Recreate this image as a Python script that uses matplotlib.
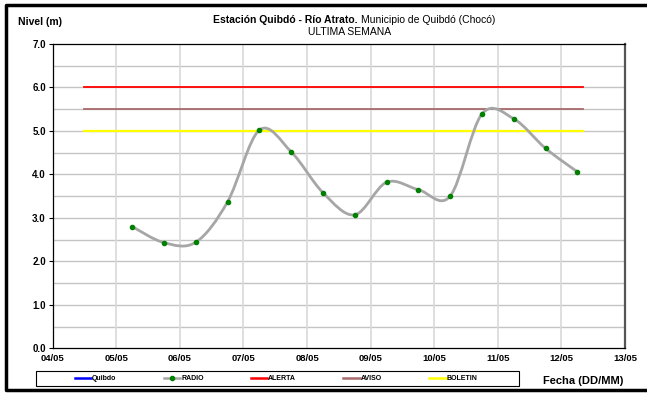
import matplotlib
matplotlib.use("Agg")
import matplotlib.pyplot as plt
from matplotlib.path import Path
from matplotlib.patches import PathPatch, Rectangle
from matplotlib.lines import Line2D
import numpy as np

plt.rcParams['font.family'] = ['Liberation Sans', 'DejaVu Sans']

# ---------------------------------------------------------------------------
# data (x = days since 04/05 00:00)
# ---------------------------------------------------------------------------
day_labels = ["04/05", "05/05", "06/05", "07/05", "08/05",
              "09/05", "10/05", "11/05", "12/05", "13/05"]

radio_days = [1.25, 1.75, 2.25, 2.75, 3.25, 3.75, 4.25, 4.75,
              5.25, 5.75, 6.25, 6.75, 7.25, 7.75, 8.25]
radio_level = [2.80, 2.43, 2.44, 3.37, 5.02, 4.52, 3.58, 3.07,
               3.82, 3.65, 3.50, 5.39, 5.28, 4.60, 4.06]

threshold_span = [0.5, 8.34]
alerta = 6.0
aviso = 5.5
boletin = 5.0


def smooth_path(xs, ys):
    # Excel-like smoothed line: cubic Bezier segments through every point
    pts = np.column_stack([xs, ys])
    n = len(pts)
    verts = [pts[0]]
    codes = [Path.MOVETO]
    for i in range(n - 1):
        p0 = pts[i - 1] if i > 0 else pts[i]
        p1, p2 = pts[i], pts[i + 1]
        p3 = pts[i + 2] if i + 2 < n else pts[i + 1]
        verts += [p1 + (p2 - p0) / 6.0, p2 - (p3 - p1) / 6.0, p2]
        codes += [Path.CURVE4] * 3
    return Path(verts, codes)


W, H = 647, 396
fig = plt.figure(figsize=(W / 100, H / 100), dpi=100)
ax = fig.add_axes([52.7 / W, 1 - 348.3 / H, (625 - 52.7) / W, (348.3 - 44) / H])

# outer frame: left, top and bottom only (right edge is outside the picture)
fx = [W + 10, 5.5, 5.5, W + 10]
fy = [4.5, 4.5, 390, 390]
fig.add_artist(Line2D([x / W for x in fx], [1 - y / H for y in fy],
                      transform=fig.transFigure, color='black', linewidth=2.5))
# legend box
fig.patches.append(Rectangle((36 / W, 1 - 386 / H), (519 - 36) / W, 15 / H,
                             transform=fig.transFigure, fill=False,
                             edgecolor='black', linewidth=0.8))

# grid
for y in np.arange(0.5, 7.0, 0.5):
    ax.axhline(y, color='#c4c4c4', linewidth=1.0, zorder=0)
for d in range(1, len(day_labels) - 1):
    ax.axvline(d, color='#d9d9d9', linewidth=1.2, zorder=0)

# thresholds
ax.plot(threshold_span, [alerta, alerta], color='#ff0000', linewidth=1.3, zorder=2)
ax.plot(threshold_span, [aviso, aviso], color='#a86a6a', linewidth=1.3, zorder=2)
ax.plot(threshold_span, [boletin, boletin], color='#ffff00', linewidth=1.6, zorder=2)

# radio series
ax.add_patch(PathPatch(smooth_path(radio_days, radio_level), fill=False,
                       edgecolor='#a6a6a6', linewidth=2.0, zorder=3))
ax.plot(radio_days, radio_level, linestyle='none', marker='o', markersize=3.0,
        color='#008000', zorder=4)

ax.set_xlim(0, len(day_labels) - 1)
ax.set_ylim(0, 7)
ax.set_xticks(range(len(day_labels)))
ax.set_xticklabels(day_labels, fontsize=6.8, fontweight='bold')
ax.set_yticks(np.arange(0, 7.1, 1.0))
ax.set_yticklabels([f"{v:.1f}" for v in np.arange(0, 7.1, 1.0)],
                   fontsize=7, fontweight='bold')
ax.tick_params(axis='both', length=3, width=0.8, pad=2)
ax.tick_params(axis='x', length=0, pad=4)
ax.spines['right'].set_color('#555555')
ax.spines['right'].set_linewidth(1.6)
for s in ['left', 'bottom', 'top']:
    ax.spines[s].set_linewidth(0.9)

# titles
fig.text(358 / W, 1 - 20 / H, "Estación Quibdó - Río Atrato.", ha='right',
         va='center', fontsize=7.5, fontweight='bold')
fig.text(361 / W, 1 - 20 / H, "Municipio de Quibdó (Chocó)", ha='left',
         va='center', fontsize=7.5)
fig.text(350 / W, 1 - 32 / H, "ULTIMA SEMANA", ha='center', va='center',
         fontsize=7.5)
fig.text(18 / W, 1 - 22 / H, "Nivel (m)", ha='left', va='center',
         fontsize=7.5, fontweight='bold')
fig.text(583 / W, 1 - 381 / H, "Fecha (DD/MM)", ha='center', va='center',
         fontsize=8, fontweight='bold')

# legend
handles = [
    Line2D([], [], color='#0000ff', linewidth=1.8),
    Line2D([], [], color='#a6a6a6', linewidth=1.8, marker='o', markersize=3,
           markerfacecolor='#008000', markeredgecolor='#008000'),
    Line2D([], [], color='#ff0000', linewidth=1.8),
    Line2D([], [], color='#a86a6a', linewidth=1.8),
    Line2D([], [], color='#ffff00', linewidth=1.8),
]
leg = fig.legend(handles, ["Quibdo", "RADIO", "ALERTA", "AVISO", "BOLETIN"],
                 loc='center', bbox_to_anchor=(276 / W, 1 - 378.5 / H),
                 ncol=5, prop={'weight': 'bold', 'size': 5},
                 frameon=False, handlelength=2.4, handletextpad=0.1,
                 columnspacing=6.8, borderpad=0.3)

fig.savefig("out.png", dpi=100)
